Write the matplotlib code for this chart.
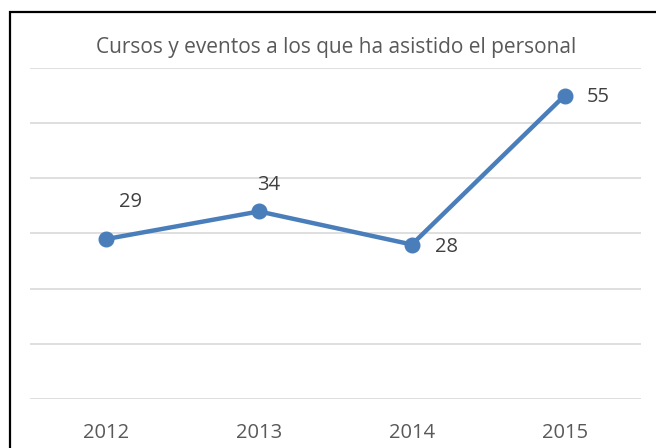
import matplotlib
matplotlib.use("Agg")
import matplotlib.pyplot as plt
from matplotlib.patches import Rectangle

years = ["2012", "2013", "2014", "2015"]
values = [29, 34, 28, 55]
label_offsets = [(24, 37), (9, 26), (35, -2), (34, -1)]  # pixels (dx, dy)
title = "Cursos y eventos a los que ha asistido el personal"

plt.rcParams['font.family'] = ['Open Sans', 'DejaVu Sans']

W, H = 656, 448
fig = plt.figure(figsize=(W / 100, H / 100), dpi=100)
ax = fig.add_axes([30 / W, (H - 399) / H, (641 - 30) / W, (399 - 68) / H])

x = list(range(len(years)))
ax.plot(x, values, color="#4A7EBB", lw=3.2, marker="o", markersize=10.5,
        markerfacecolor="#4A7EBB", markeredgecolor="#4A7EBB", zorder=3)

for xi, v, (dx, dy) in zip(x, values, label_offsets):
    ax.annotate(str(v), (xi, v), xytext=(dx, dy), textcoords="offset pixels",
                ha="center", va="center", fontsize=14.5, color="#404040")

ax.set_xlim(-0.5, len(years) - 0.5)
ax.set_ylim(0, 60)
ax.set_yticks(range(0, 61, 10))
ax.yaxis.grid(True, color="#D9D9D9", lw=1.2)
ax.set_axisbelow(True)
ax.tick_params(axis="y", left=False, labelleft=False)
ax.set_xticks(x)
ax.set_xticklabels(years, fontsize=14.5, color="#595959")
ax.tick_params(axis="x", length=0, pad=17)
for s in ax.spines.values():
    s.set_visible(False)
ax.patch.set_alpha(0)

fig.text(336 / W, 1 - 47 / H, title, ha="center", va="center",
         fontsize=15, color="#595959")

fig.patches.append(Rectangle((10 / W, -0.1), 1.2, 1 - 12.5 / H + 0.1,
                             transform=fig.transFigure, fill=False,
                             edgecolor="black", lw=1.6, zorder=10))

fig.savefig("out.png", dpi=100)
